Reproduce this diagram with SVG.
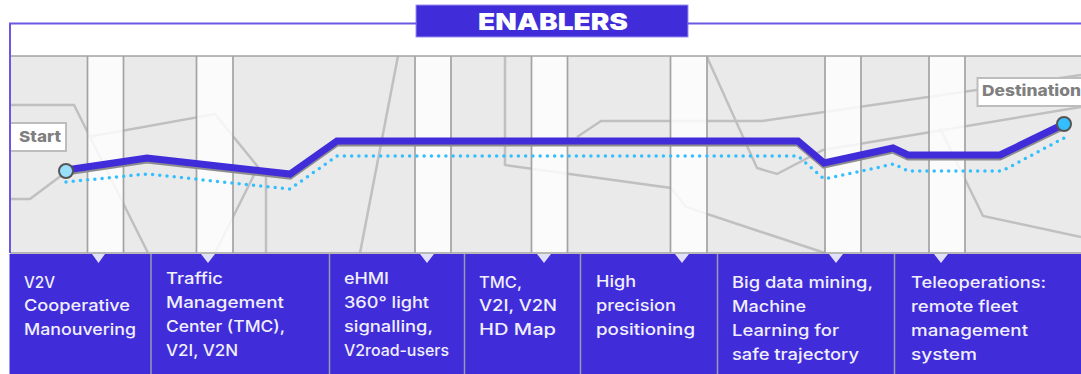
<svg xmlns="http://www.w3.org/2000/svg" width="1081" height="374" viewBox="0 0 1081 374">
<style>
.road{fill:none;stroke:#c0c0c0;stroke-width:2.500}
.strip{fill:#fff;fill-opacity:.82}
.edge{stroke:#a3a3a3;stroke-width:1.700;fill:none}
.div{stroke:#9a98b4;stroke-width:1.500}
.band{fill:#402dd9}
.notch{fill:#e2dff8}
.t{font-family:"Inter","Liberation Sans",sans-serif;font-size:16px;font-weight:500;fill:#f1effd}
.lab{font-family:"Inter","Liberation Sans",sans-serif;font-size:15px;font-weight:800;fill:#7f7f7f}
.box{fill:#fff;stroke:#bdbdbd;stroke-width:2}
</style>
<rect width="1081" height="374" fill="#fff"/>
<g id="map">
<rect x="10" y="56" width="1071" height="197" fill="#eaeaea"/>
<path class="road" d="M10 105H74L148 253"/>
<path class="road" d="M88 137L215 114L258 167L215 253"/>
<path class="road" d="M266 177V253"/>
<path class="road" d="M10 199H30L66 172"/>
<path class="road" d="M398 56L360 253"/>
<path class="road" d="M505 56V165L671 188L686 207L825 253"/>
<path class="road" d="M577 137L601 121H762L1081 75"/>
<path class="road" d="M707 57L757 168L777 174L823 150L1081 107"/>
<path class="road" d="M940 128L983 216L1081 237"/>
<rect class="strip" x="88" y="56" width="35" height="197"/>
<rect class="strip" x="197" y="56" width="36" height="197"/>
<rect class="strip" x="415" y="56" width="36" height="197"/>
<rect class="strip" x="532" y="56" width="35" height="197"/>
<rect class="strip" x="671" y="56" width="36" height="197"/>
<rect class="strip" x="825" y="56" width="36" height="197"/>
<rect class="strip" x="929" y="56" width="36" height="197"/>
<path class="edge" d="M10 56H1081M10 253H1081M87.500 56V253M123.500 56V253M196.500 56V253M233 56V253M415 56V253M451 56V253M531.500 56V253M567.500 56V253M670.500 56V253M707 56V253M825 56V253M861 56V253M929 56V253M965 56V253"/>
</g>
<g id="title">
<rect x="416" y="5" width="272" height="32" fill="#402dd9" stroke="#9a8ff0"/>
<text x="478" y="30" textLength="150" lengthAdjust="spacingAndGlyphs" font-family="Inter, 'Liberation Sans', sans-serif" font-size="23" font-weight="900" fill="#fff">ENABLERS</text>
</g>
<g id="connectors">
<path d="M66 172L147 160L290 176L337 143H798L824 165L893 150L908 157H1000L1064 126" fill="none" stroke="#8d8d8d" stroke-width="7"/>
<path d="M66 170L147 158L290 174L337 141H798L824 163L893 148L908 155H1000L1064 124" fill="none" stroke="#402dd9" stroke-width="7"/>
<path d="M66 182L147 174L290 189L337 156H798L824 179L894 164L908 171H1002L1064 138" fill="none" stroke="#33bfff" stroke-width="3.500" stroke-linecap="round" stroke-dasharray="0 7.250"/>
</g>
<g id="start">
<path class="box" d="M10 123H66V151H10Z"/>
<text class="lab" x="19" y="142" textLength="42" lengthAdjust="spacingAndGlyphs">Start</text>
<circle cx="66" cy="171" r="7" fill="#99e0ff" stroke="#555" stroke-width="2"/>
</g>
<g id="destination">
<rect class="box" x="977.500" y="78" width="110" height="28"/>
<text class="lab" x="982" y="96" textLength="99" lengthAdjust="spacingAndGlyphs">Destination</text>
<circle cx="1064" cy="124" r="7" fill="#33bfff" stroke="#555" stroke-width="2"/>
</g>
<g id="band">
<rect class="band" x="9.500" y="254" width="1071.500" height="120"/>
<path class="div" d="M151 254V374M329.500 254V374M464.500 254V374M580.500 254V374M717.500 254V374M894.500 254V374"/>
<path class="notch" d="M92 254H105L98.500 263ZM201 254H215L208 263ZM420 254H434L427 263ZM537 254H551L544 263ZM675 254H689L682 263ZM829 254H843L836 263ZM934 254H948L941 263Z"/>
</g>
<g id="frame"><path d="M10 253V23.500H416M688 23.500H1081" fill="none" stroke="#6a58e2" stroke-width="2"/></g>
<g id="e1"><text class="t" x="24" y="288" textLength="31" lengthAdjust="spacingAndGlyphs">V2V</text><text class="t" x="24" y="311" textLength="106" lengthAdjust="spacingAndGlyphs">Cooperative</text><text class="t" x="24" y="335" textLength="112" lengthAdjust="spacingAndGlyphs">Manouvering</text></g>
<g id="e2"><text class="t" x="166" y="284" textLength="57" lengthAdjust="spacingAndGlyphs">Traffic</text><text class="t" x="166" y="308" textLength="118" lengthAdjust="spacingAndGlyphs">Management</text><text class="t" x="166" y="332" textLength="119" lengthAdjust="spacingAndGlyphs">Center (TMC),</text><text class="t" x="166" y="356" textLength="72" lengthAdjust="spacingAndGlyphs">V2I, V2N</text></g>
<g id="e3"><text class="t" x="344" y="284" textLength="45" lengthAdjust="spacingAndGlyphs">eHMI</text><text class="t" x="344" y="308" textLength="85" lengthAdjust="spacingAndGlyphs">360° light</text><text class="t" x="344" y="332" textLength="89" lengthAdjust="spacingAndGlyphs">signalling,</text><text class="t" x="344" y="356" textLength="105" lengthAdjust="spacingAndGlyphs">V2road-users</text></g>
<g id="e4"><text class="t" x="479" y="288" textLength="43" lengthAdjust="spacingAndGlyphs">TMC,</text><text class="t" x="479" y="311" textLength="78" lengthAdjust="spacingAndGlyphs">V2I, V2N</text><text class="t" x="479" y="335" textLength="77" lengthAdjust="spacingAndGlyphs">HD Map</text></g>
<g id="e5"><text class="t" x="596" y="287" textLength="40" lengthAdjust="spacingAndGlyphs">High</text><text class="t" x="596" y="311" textLength="80" lengthAdjust="spacingAndGlyphs">precision</text><text class="t" x="596" y="335" textLength="99" lengthAdjust="spacingAndGlyphs">positioning</text></g>
<g id="e6"><text class="t" x="732" y="288" textLength="141" lengthAdjust="spacingAndGlyphs">Big data mining,</text><text class="t" x="732" y="312" textLength="74" lengthAdjust="spacingAndGlyphs">Machine</text><text class="t" x="732" y="336" textLength="107" lengthAdjust="spacingAndGlyphs">Learning for</text><text class="t" x="732" y="360" textLength="127" lengthAdjust="spacingAndGlyphs">safe trajectory</text></g>
<g id="e7"><text class="t" x="911" y="288" textLength="135" lengthAdjust="spacingAndGlyphs">Teleoperations:</text><text class="t" x="911" y="312" textLength="107" lengthAdjust="spacingAndGlyphs">remote fleet</text><text class="t" x="911" y="336" textLength="117" lengthAdjust="spacingAndGlyphs">management</text><text class="t" x="911" y="360" textLength="66" lengthAdjust="spacingAndGlyphs">system</text></g>
</svg>
